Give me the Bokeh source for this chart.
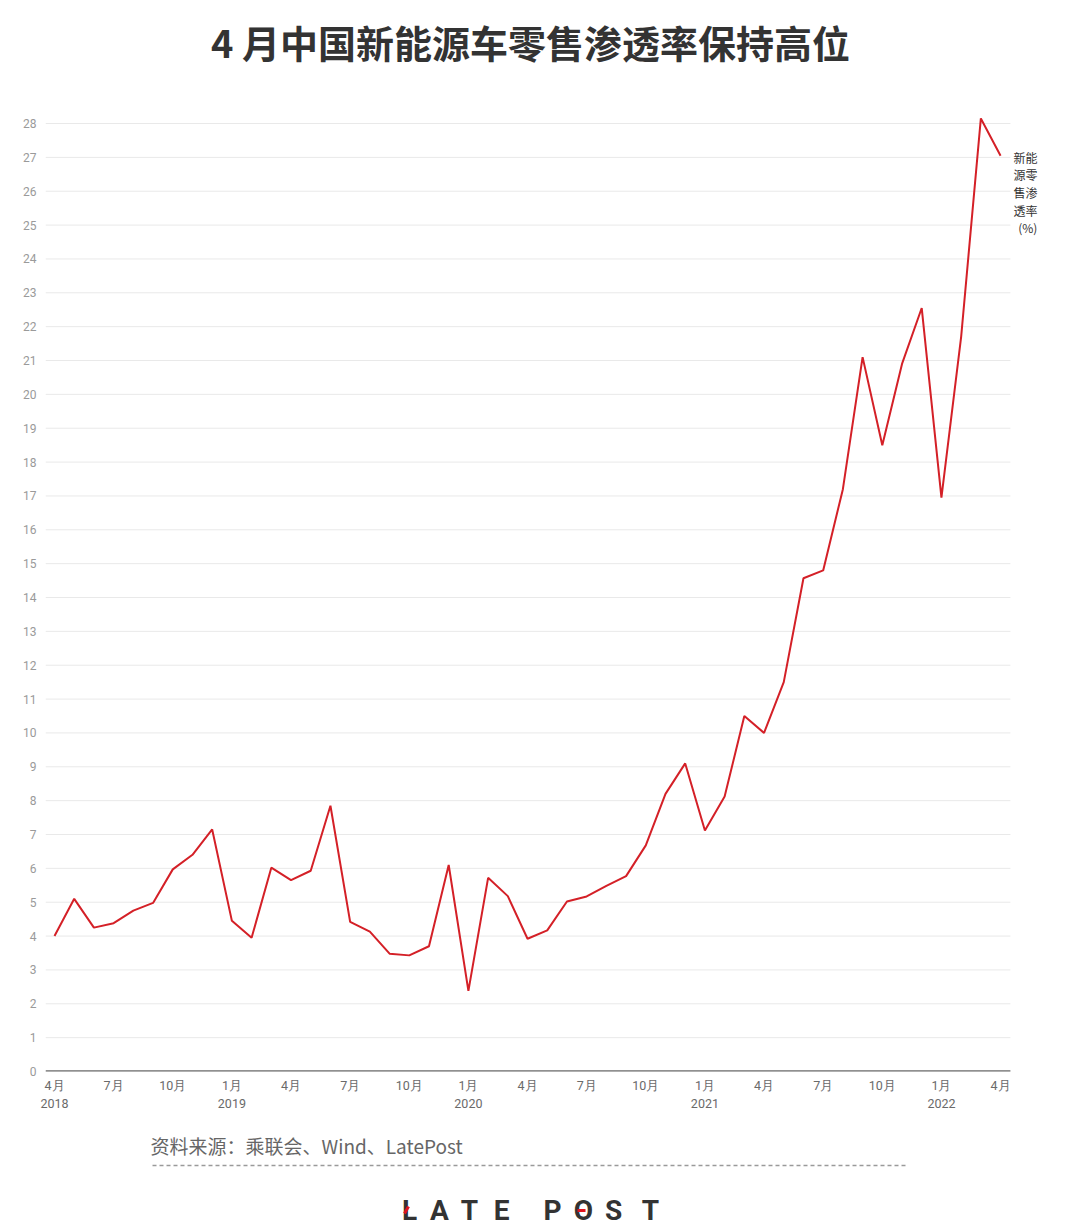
from bokeh.plotting import figure
from bokeh.layouts import column
from bokeh.models import Range1d, FixedTicker
from bokeh.core.properties import value
from bokeh.embed import file_html
from bokeh.resources import INLINE

# Monthly data, Apr 2018 .. Apr 2022
months = list(range(49))
penetration = [4.0, 5.1, 4.25, 4.38, 4.75, 4.98, 5.97, 6.4, 7.15,
               4.45, 3.95, 6.02, 5.65, 5.93, 7.85, 4.42, 4.13, 3.48, 3.43, 3.7, 6.1,
               2.38, 5.72, 5.18, 3.92, 4.17, 5.02, 5.17, 5.48, 5.77, 6.68, 8.2, 9.1,
               7.12, 8.12, 10.5, 10.0, 11.5, 14.57, 14.8, 17.2, 21.1, 18.5, 20.9, 22.55,
               16.95, 21.7, 28.15, 27.05]
tick_positions = list(range(0, 49, 3))
tick_labels = ["4月\n2018", "7月", "10月", "1月\n2019", "4月", "7月", "10月",
               "1月\n2020", "4月", "7月", "10月", "1月\n2021", "4月", "7月", "10月",
               "1月\n2022", "4月"]
y_ticks = list(range(0, 29))

title_text = "4 月中国新能源车零售渗透率保持高位"
series_label = "新能\n源零\n售渗\n透率\n(%)"
source_text = "资料来源：乘联会、Wind、LatePost"
logo_letters = ["L", "A", "T", "E", "P", "O", "S", "T"]

W = 1080
LEFT, RIGHT = 45, 1045          # frame edges shared by all three figures (page px)
BL, BR = LEFT, W - RIGHT
CJK = "Noto Sans CJK SC"
X0, X1 = -0.457, 50.28          # month-index range of the chart frame
GRID_END = 48.5                 # grid lines stop here; the label sits right of it

# ---------- header ----------
HH = 78
hdr = figure(width=W, height=HH, output_backend="svg", toolbar_location=None,
             x_range=Range1d(LEFT, RIGHT), y_range=Range1d(0, HH),
             min_border_left=BL, min_border_right=BR, min_border_top=0, min_border_bottom=0)
hdr.axis.visible = False
hdr.grid.visible = False
hdr.outline_line_color = None
hdr.text(x=[530], y=[HH - 41], text=[title_text], text_font=value(CJK),
         text_font_style="bold", text_font_size="38px", text_color="#333333",
         text_align="center", text_baseline="middle")

# ---------- main chart ----------
p = figure(width=W, height=1040, output_backend="svg", toolbar_location=None,
           x_range=Range1d(X0, X1), y_range=Range1d(0, 28.68),
           min_border_left=BL, min_border_right=BR, min_border_top=22, min_border_bottom=47)
p.outline_line_color = None
p.xgrid.grid_line_color = None
p.ygrid.grid_line_color = None

# horizontal grid lines limited to the data area
p.segment(x0=[X0] * len(y_ticks), y0=y_ticks, x1=[GRID_END] * len(y_ticks), y1=y_ticks,
          line_color="#e9e9e9", line_width=1)
p.segment(x0=[X0], y0=[0], x1=[GRID_END], y1=[0], line_color="#6b6b6b", line_width=2.5)

p.line(months, penetration, line_color="#d42027", line_width=2)

p.yaxis.ticker = FixedTicker(ticks=y_ticks)
p.yaxis.axis_line_color = None
p.yaxis.major_tick_line_color = None
p.yaxis.minor_tick_line_color = None
p.yaxis.major_label_text_color = "#9a9a9a"
p.yaxis.major_label_text_font = "Roboto"
p.yaxis.major_label_text_font_size = "12px"
p.yaxis.major_label_standoff = 3

p.xaxis.ticker = FixedTicker(ticks=tick_positions)
p.xaxis.major_label_overrides = {t: l for t, l in zip(tick_positions, tick_labels)}
p.xaxis.axis_line_color = None
p.xaxis.major_tick_line_color = None
p.xaxis.minor_tick_line_color = None
p.xaxis.major_label_text_color = "#6a6a6a"
p.xaxis.major_label_text_font = "Roboto"
p.xaxis.major_label_text_font_size = "12.5px"
p.xaxis.major_label_standoff = 0

p.text(x=[months[-1] + 1.87], y=[27.26], text=[series_label], text_font=value(CJK),
       text_font_size="12px", text_color="#333333", text_align="right",
       text_baseline="top", text_line_height=1.04)

# ---------- footer ----------
FH = 110
ftr = figure(width=W, height=FH, output_backend="svg", toolbar_location=None,
             x_range=Range1d(LEFT, RIGHT), y_range=Range1d(0, FH),
             min_border_left=BL, min_border_right=BR, min_border_top=0, min_border_bottom=0)
ftr.axis.visible = False
ftr.grid.visible = False
ftr.outline_line_color = None
ftr.text(x=[150], y=[FH - 27], text=[source_text], text_font=value(CJK),
         text_font_size="19px", text_color="#666666", text_baseline="middle")
ftr.segment(x0=[152], y0=[FH - 47], x1=[905], y1=[FH - 47], line_color="#9a9a9a",
            line_width=1.5, line_dash="4 3")
logo_x = [409, 439, 469, 501, 552, 583, 613, 650]
ftr.text(x=logo_x, y=[FH - 92] * 8, text=logo_letters, text_font=value("Roboto"),
         text_font_style="bold", text_font_size="28px", text_color="#333333",
         text_align="center", text_baseline="middle")
ftr.segment(x0=[404, 577], y0=[FH - 95, FH - 92], x1=[408, 585], y1=[FH - 88, FH - 92],
            line_color="#e0141e", line_width=3)

layout = column(hdr, p, ftr, spacing=0)
open("out.html", "w").write(file_html(layout, INLINE))
